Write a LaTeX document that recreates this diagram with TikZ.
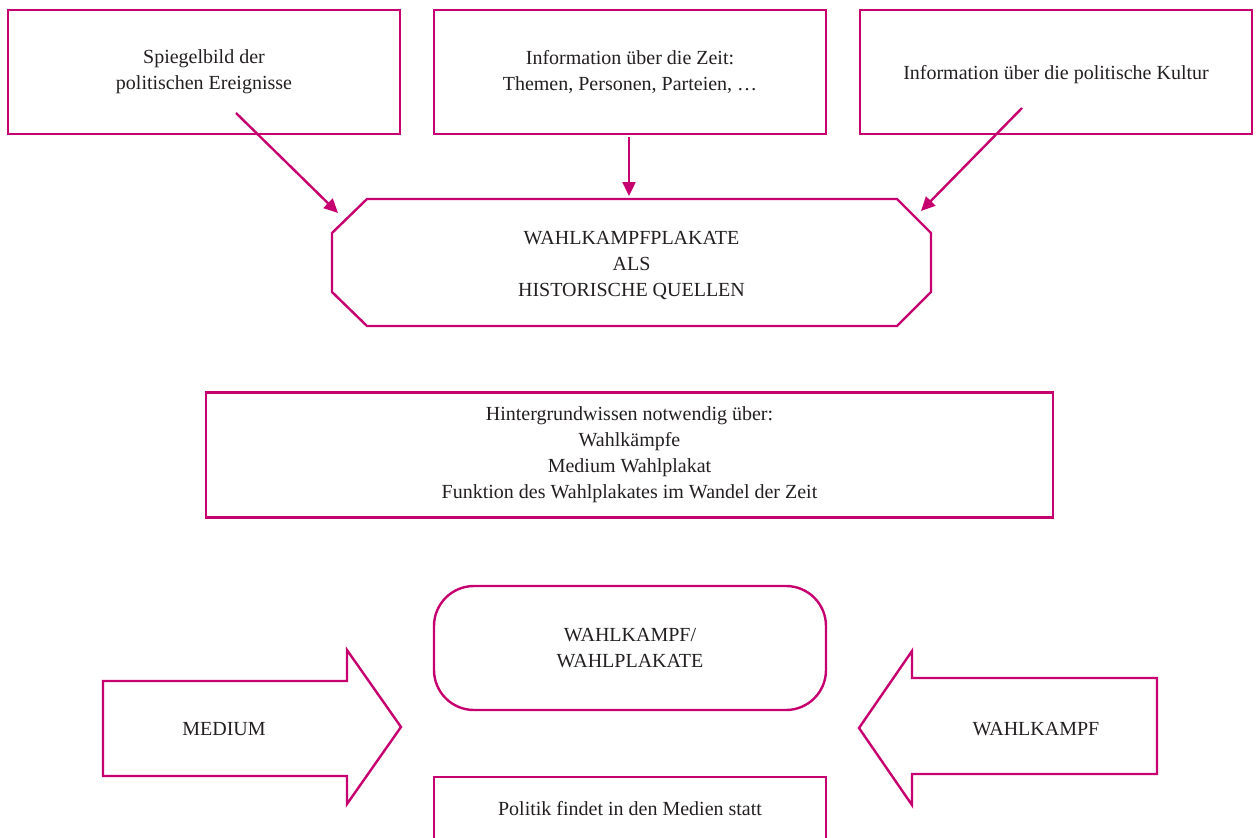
\documentclass[tikz,border=0pt]{standalone}
\usepackage{fontspec}
\setmainfont{Liberation Serif}
\usetikzlibrary{arrows.meta}
\definecolor{plakatrot}{RGB}{198,0,110}
\definecolor{schrift}{RGB}{35,31,32}
\begin{document}
\begin{tikzpicture}[x=1pt,y=-1pt,
  rahmen/.style={draw=plakatrot,line width=2.4pt},
  wort/.style={text=schrift,align=center,font=\fontsize{20}{26}\selectfont},
  kasten/.style={rahmen,wort,minimum width=392pt,minimum height=124pt,inner sep=0pt,
    execute at begin node={\rule{0pt}{20pt}}},
  pfeil/.style={draw=plakatrot,line width=2.4pt,-{Triangle[length=14pt,width=13pt]}}]
  \useasboundingbox (0,0) rectangle (1259,838);
  \clip (0,0) rectangle (1259,838);
   \node[kasten] (spiegel) at (204,72) {Spiegelbild der\\politischen Ereignisse};
   \node[kasten] (zeit) at (630,72) {Information über die Zeit:\\Themen, Personen, Parteien, \dots};
   \node[kasten] (kultur) at (1056,72) {Information über die politische Kultur};
   \draw[rahmen] (367,199) -- (897,199) -- (931,233) -- (931,292) -- (897,326) -- (367,326) -- (332,292) -- (332,233) -- cycle;
   \node[wort] (quellen) at (631.5,266) {WAHLKAMPFPLAKATE\\ALS\\HISTORISCHE QUELLEN};
   \coordinate (a1) at (236,113);
   \coordinate (b1) at (338,213);
   \coordinate (a2) at (629,137);
   \coordinate (b2) at (629,196);
   \coordinate (a3) at (1022,108);
   \coordinate (b3) at (921,211);
   \draw[pfeil] (a1) -- (b1);
   \draw[pfeil] (a2) -- (b2);
   \draw[pfeil] (a3) -- (b3);
   \node[kasten,minimum width=847pt,minimum height=125pt] (wissen) at (629.5,455) {Hintergrundwissen notwendig über:\\Wahlkämpfe\\Medium Wahlplakat\\Funktion des Wahlplakates im Wandel der Zeit};
   \node[kasten,rounded corners=40pt] (plakate) at (630,648) {WAHLKAMPF/\\WAHLPLAKATE};
   \draw[rahmen] (103,681) -- (347,681) -- (347,650) -- (401,727) -- (347,804) -- (347,776) -- (103,776) -- cycle;
   \node[wort] (medium) at (224,729) {MEDIUM};
   \draw[rahmen] (1157,678) -- (912,678) -- (912,651) -- (859,728) -- (912,805) -- (912,774) -- (1157,774) -- cycle;
   \node[wort] (wahlkampf) at (1036,729) {WAHLKAMPF};
   \draw[rahmen] (434,777) rectangle (826,870);
   \node[wort] (politik) at (630,809) {Politik findet in den Medien statt};
\end{tikzpicture}
\end{document}
